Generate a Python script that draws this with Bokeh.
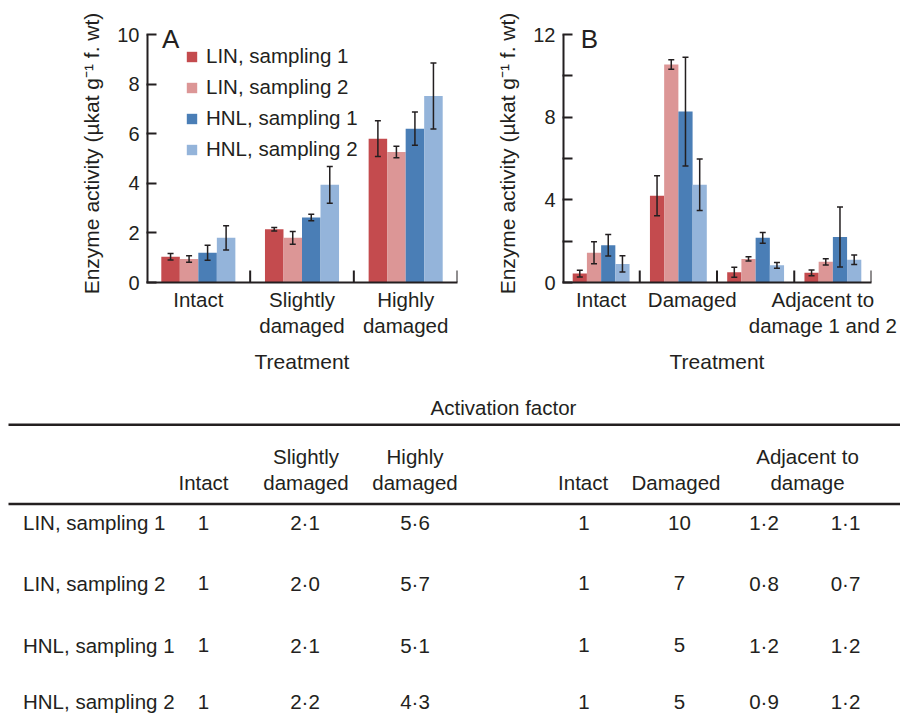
from bokeh.plotting import figure
from bokeh.models import (ColumnDataSource, Range1d, FixedTicker, Whisker, TeeHead,
                          Legend, LegendItem, Label)
from bokeh.layouts import column, row
from bokeh.embed import file_html
from bokeh.resources import INLINE
from bokeh.core.properties import value

FONT = "Liberation Sans"
INK = "#231f20"

# ---------------- data ----------------
series_names = ["LIN, sampling 1", "LIN, sampling 2", "HNL, sampling 1", "HNL, sampling 2"]
series_colors = ["#c44b4e", "#dc9696", "#4a7eb6", "#94b4da"]

# Panel A
a_groups = ["Intact", "Slightly damaged", "Highly damaged"]
a_labels = ["Intact", "Slightly\ndamaged", "Highly\ndamaged"]
a_lin1 = [1.04, 2.15, 5.80]
a_lin1_err = [0.13, 0.07, 0.72]
a_lin2 = [0.95, 1.80, 5.26]
a_lin2_err = [0.13, 0.26, 0.23]
a_hnl1 = [1.20, 2.62, 6.20]
a_hnl1_err = [0.30, 0.13, 0.67]
a_hnl2 = [1.80, 3.94, 7.52]
a_hnl2_err = [0.49, 0.74, 1.33]
a_yticks = [0, 2, 4, 6, 8, 10]

# Panel B
b_groups = ["Intact", "Damaged", "Adjacent to damage 1", "Adjacent to damage 2"]
b_labels = ["Intact", "Damaged", "Adjacent to\ndamage 1 and 2"]
b_lin1 = [0.43, 4.20, 0.50, 0.47]
b_lin1_err = [0.16, 0.97, 0.24, 0.14]
b_lin2 = [1.44, 10.55, 1.14, 1.00]
b_lin2_err = [0.53, 0.23, 0.10, 0.15]
b_hnl1 = [1.80, 8.27, 2.16, 2.20]
b_hnl1_err = [0.52, 2.63, 0.26, 1.45]
b_hnl2 = [0.90, 4.73, 0.83, 1.10]
b_hnl2_err = [0.39, 1.25, 0.14, 0.23]
b_yticks = [0, 2, 4, 6, 8, 10, 12]
b_ytick_labels = ["0", "", "4", "", "8", "", "12"]

# Activation factor table
table_title = "Activation factor"
table_headers = ["Intact", "Slightly\ndamaged", "Highly\ndamaged", "Intact", "Damaged", "Adjacent to\ndamage"]
af_a_intact = [1, 1, 1, 1]
af_a_slight = [2.1, 2.0, 2.1, 2.2]
af_a_high = [5.6, 5.7, 5.1, 4.3]
af_b_intact = [1, 1, 1, 1]
af_b_damaged = [10, 7, 5, 5]
af_b_adj1 = [1.2, 0.8, 1.2, 0.9]
af_b_adj2 = [1.1, 0.7, 1.2, 1.2]

# ---------------- layout (pixels) ----------------
A_W, B_W, CH, TH = 468, 432, 388, 332
TOP, BOTTOM, HEADROOM = 24, 106, 10
YLABEL = "Enzyme activity (\u00b5kat g\u207b\u00b9 f. wt)"
TXT = "20.5px"


def panel(groups, labels, label_pos, means, errs, ymax, yticks, ytick_labels,
          bw, width, left, right, letter, letter_x, legend_loc=None):
    n = len(groups)
    frame_h = CH - TOP - BOTTOM
    px = (frame_h - HEADROOM) / ymax  # pixels per unit
    ytop = ymax + HEADROOM / px
    p = figure(width=width, height=CH, x_range=Range1d(0, n), y_range=Range1d(0, ytop),
               output_backend="svg", toolbar_location=None,
               min_border_left=left, min_border_right=right,
               min_border_top=TOP, min_border_bottom=BOTTOM)
    p.xgrid.grid_line_color = None
    p.ygrid.grid_line_color = None
    p.outline_line_color = None
    items = []
    for k, (m, e) in enumerate(zip(means, errs)):
        xs = [i + 0.5 + (k - 1.5) * bw for i in range(n)]
        src = ColumnDataSource(dict(x=xs, top=m,
                                    upper=[a + b for a, b in zip(m, e)],
                                    lower=[a - b for a, b in zip(m, e)]))
        r = p.vbar(x="x", top="top", width=bw, source=src,
                   fill_color=series_colors[k], line_color=None)
        w = Whisker(base="x", upper="upper", lower="lower", source=src,
                    line_color=INK, line_width=1.5, level="overlay",
                    upper_head=TeeHead(size=6, line_color=INK, line_width=1.5),
                    lower_head=TeeHead(size=6, line_color=INK, line_width=1.5))
        p.add_layout(w)
        items.append(LegendItem(label=series_names[k], renderers=[r]))
    # group separators (inward ticks on the x axis)
    sep = list(range(1, n + 1))
    p.segment(x0=sep, y0=[0] * n, x1=sep, y1=[12 / px] * n, line_color=INK, line_width=2)
    # y axis line that stops at the last tick
    p.segment(x0=[0], y0=[0], x1=[0], y1=[ymax], line_color=INK, line_width=4)

    # y axis
    ya = p.yaxis[0]
    ya.ticker = FixedTicker(ticks=yticks)
    ya.major_label_overrides = {t: s for t, s in zip(yticks, ytick_labels)}
    ya.major_tick_in = 10
    ya.major_tick_out = 0
    ya.minor_tick_line_color = None
    ya.major_tick_line_width = 2
    ya.major_tick_line_color = INK
    ya.axis_line_color = None
    ya.major_label_standoff = 7
    ya.major_label_text_font = FONT
    ya.major_label_text_font_size = "20px"
    ya.major_label_text_color = INK
    ya.axis_label = YLABEL
    ya.axis_label_text_font = FONT
    ya.axis_label_text_font_size = "21px"
    ya.axis_label_text_font_style = "normal"
    ya.axis_label_text_color = INK
    ya.axis_label_standoff = 11

    # x axis
    xa = p.xaxis[0]
    xa.ticker = FixedTicker(ticks=label_pos)
    xa.major_label_overrides = {t: s for t, s in zip(label_pos, labels)}
    xa.major_tick_in = 0
    xa.major_tick_out = 0
    xa.minor_tick_line_color = None
    xa.axis_line_width = 2
    xa.axis_line_color = INK
    xa.major_label_standoff = 5
    xa.major_label_text_font = FONT
    xa.major_label_text_font_size = TXT
    xa.major_label_text_color = INK
    xa.major_label_text_line_height = 1.15
    xa.axis_label = "Treatment"
    xa.axis_label_text_font = FONT
    xa.axis_label_text_font_size = "21px"
    xa.axis_label_text_font_style = "normal"
    xa.axis_label_text_color = INK
    xa.axis_label_standoff = 10

    p.add_layout(Label(x=letter_x, y=ymax - 4.8 / px, text=letter, text_font=FONT,
                       text_font_size="26px", text_color=INK, text_baseline="middle",
                       text_align="left"))
    if legend_loc is not None:
        lg = Legend(items=items, location=legend_loc, padding=0, margin=0, spacing=7,
                    glyph_width=13, glyph_height=13, label_standoff=8,
                    label_text_font=FONT, label_text_font_size=TXT,
                    label_text_color=INK, background_fill_alpha=0,
                    border_line_color=None)
        p.add_layout(lg)
    return p


pA = panel(a_groups, a_labels, [0.5, 1.5, 2.5],
           [a_lin1, a_lin2, a_hnl1, a_hnl2], [a_lin1_err, a_lin2_err, a_hnl1_err, a_hnl2_err],
           10, a_yticks, [str(t) for t in a_yticks], 0.1786, A_W, 146, 11, "A", 0.15,
           legend_loc=(39, 121))
pB = panel(b_groups, b_labels, [0.5, 1.68, 3.37],
           [b_lin1, b_lin2, b_hnl1, b_hnl2], [b_lin1_err, b_lin2_err, b_hnl1_err, b_hnl2_err],
           12, b_yticks, b_ytick_labels, 0.184, B_W, 94, 29, "B", 0.235)

# ---------------- table ----------------
pT = figure(width=A_W + B_W, height=TH, x_range=Range1d(0, A_W + B_W),
            y_range=Range1d(CH + TH, CH), x_axis_type=None, y_axis_type=None,
            output_backend="svg", toolbar_location=None, min_border=0)
pT.xgrid.grid_line_color = None
pT.ygrid.grid_line_color = None
pT.outline_line_color = None

rule_y = [424.3, 503.5]
pT.segment(x0=[8, 8], y0=rule_y, x1=[A_W + B_W] * 2, y1=rule_y, line_color=INK, line_width=2.6)

tkw = dict(text_font=value(FONT), text_font_size=TXT, text_color=INK, text_baseline="middle")
pT.text(x=[503], y=[407], text=[table_title], text_align="center", **tkw)

head_x = [203, 305.5, 414.5, 582.6, 675.5, 807]
top_x, top_t, bot_x, bot_t = [], [], [], []
for hx, h in zip(head_x, table_headers):
    parts = h.split("\n")
    if len(parts) == 2:
        top_x.append(hx); top_t.append(parts[0])
    bot_x.append(hx); bot_t.append(parts[-1])
pT.text(x=top_x, y=[456] * len(top_x), text=top_t, text_align="center", **tkw)
pT.text(x=bot_x, y=[482.2] * len(bot_x), text=bot_t, text_align="center", **tkw)

row_y = [522, 582.5, 644.5, 701]
pT.text(x=[22.5] * 4, y=row_y, text=series_names, text_align="left", **tkw)


def fmt(v, dec):
    return f"{v:.1f}".replace(".", "\u00b7") if dec else str(int(v))


cols = [(af_a_intact, False), (af_a_slight, True), (af_a_high, True), (af_b_intact, False),
        (af_b_damaged, False), (af_b_adj1, True), (af_b_adj2, True)]
col_x = [203, 304.5, 414.5, 583.4, 679, 763.5, 845]
for cx, (vals, dec) in zip(col_x, cols):
    pT.text(x=[cx] * len(vals), y=row_y, text=[fmt(v, dec) for v in vals],
            text_align="center", **tkw)

layout = column(row(pA, pB), pT)
open("out.html", "w").write(file_html(layout, INLINE))
